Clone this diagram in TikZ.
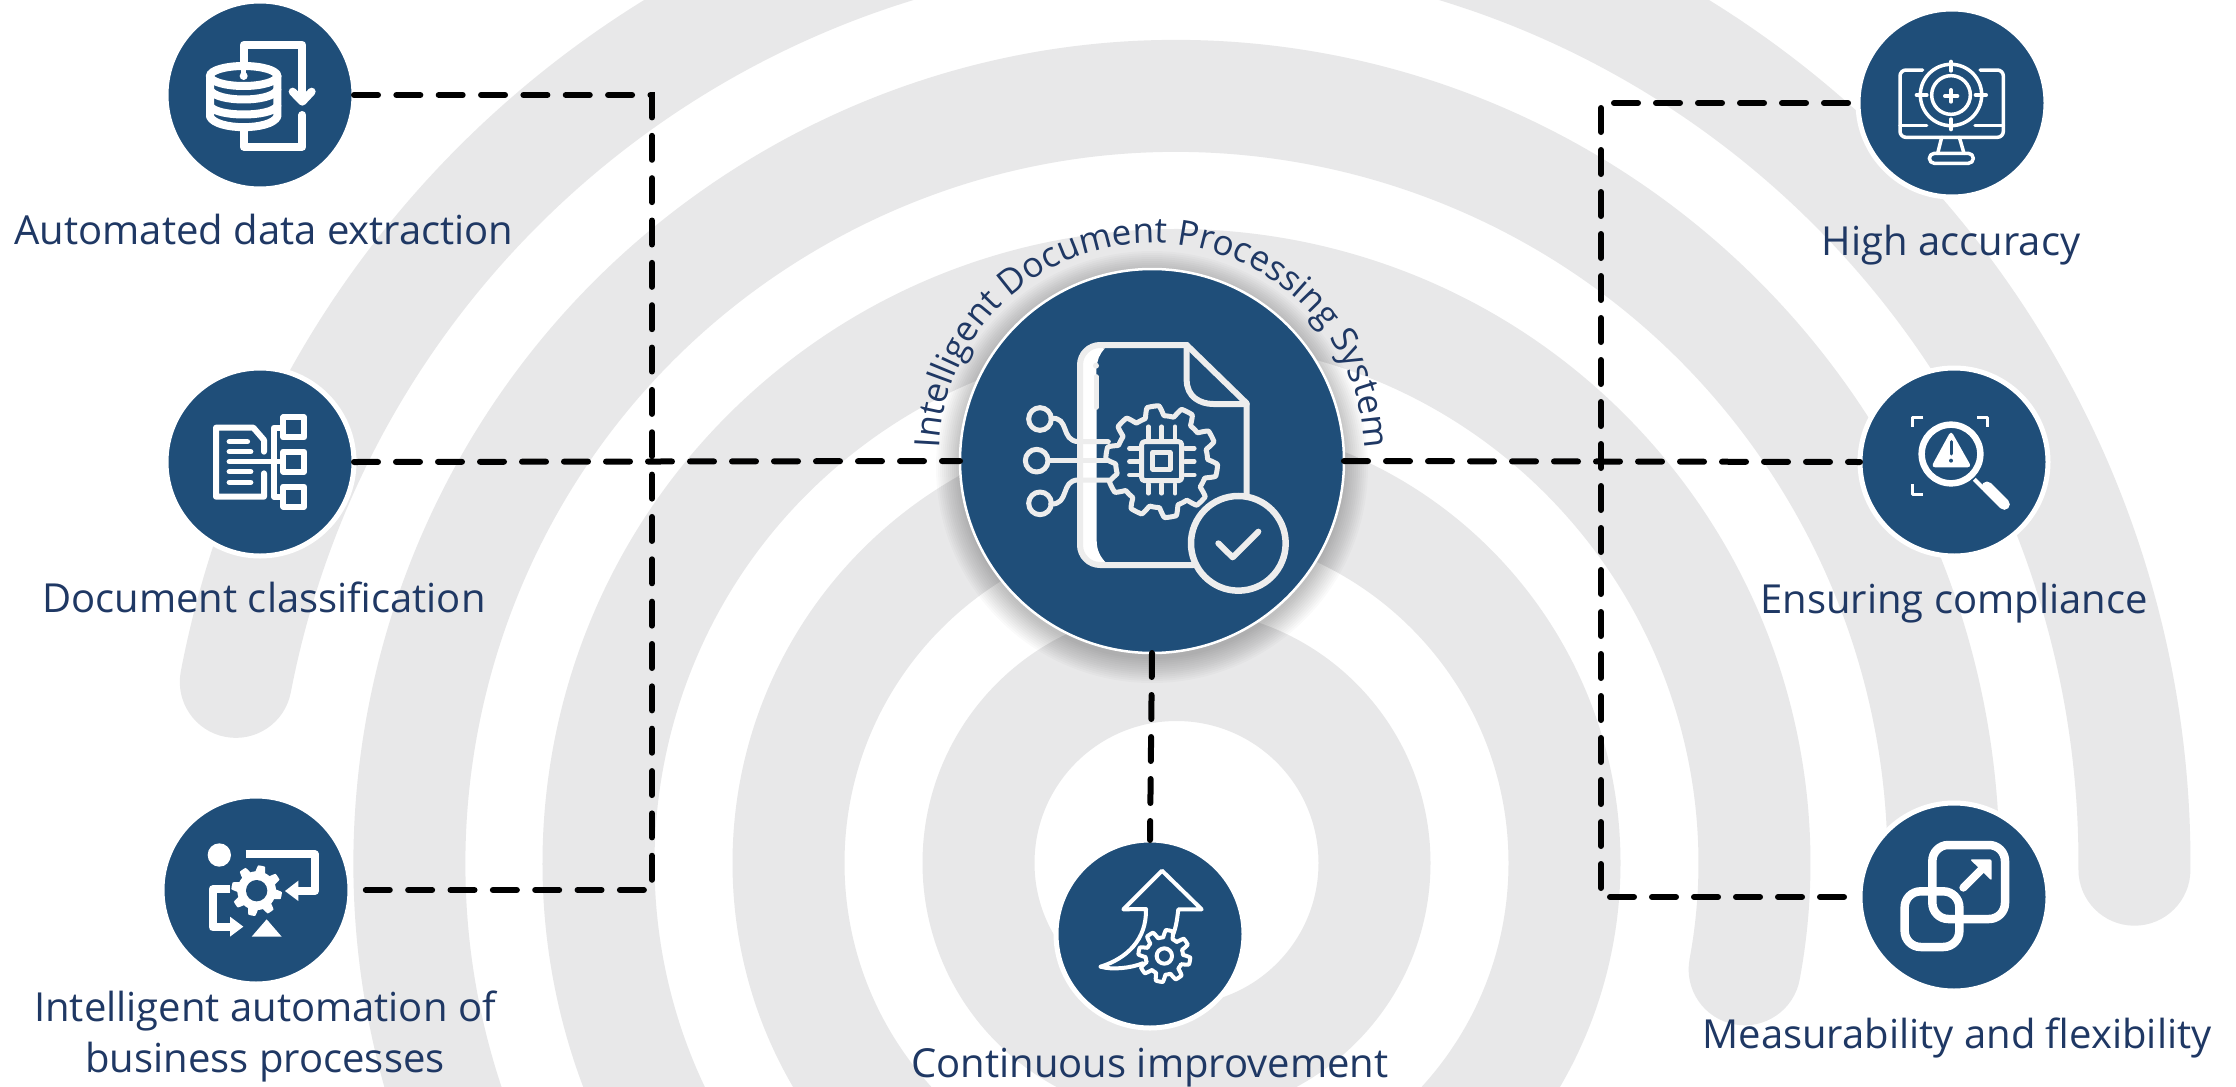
\documentclass[tikz,border=0pt]{standalone}
\usepackage{fontspec}
\setmainfont{Open Sans}
\usetikzlibrary{decorations.text}
\definecolor{ringgray}{HTML}{E8E8E9}
\definecolor{navyfill}{HTML}{1F4E79}
\definecolor{navytext}{HTML}{1F3864}
\definecolor{iconlight}{HTML}{EDEDED}
\newcommand{\gearfig}[6]{%
  \path[#1] plot[domain=0:360,samples=361] ({#2+((#4+#5)/2+(#4-#5)/2*max(-1,min(1,2.2*sin(#6*\x))))*cos(\x)},{#3+((#4+#5)/2+(#4-#5)/2*max(-1,min(1,2.2*sin(#6*\x))))*sin(\x)}) -- cycle;}
\tikzset{
  ring/.style={draw=ringgray,line width=112pt,line cap=round,fill=none},
  hub/.style={circle,fill=navyfill,draw=white,line width=5pt,minimum size=188pt,inner sep=0pt,outer sep=0pt},
  mainhub/.style={circle,fill=navyfill,draw=white,line width=2.5pt,minimum size=384pt,inner sep=0pt,outer sep=0pt},
  label/.style={text=navytext,font=\fontsize{40}{51}\selectfont,align=center,inner sep=0pt},
  link/.style={draw=black,line width=6pt,line cap=round,dash pattern=on 24pt off 18pt},
  linkB/.style={draw=black,line width=6pt,line cap=round,dash pattern=on 24pt off 18.35pt},
  ic/.style={draw=white,line cap=round,line join=round,fill=none},
  zoomA/.style={x=0.33333pt,y=-0.33333pt},
}
\begin{document}
\begin{tikzpicture}[x=1pt,y=-1pt]
\useasboundingbox (0,0) rectangle (2236,1087);
\fill[white] (0,0) rectangle (2236,1087);
% rings
\begin{scope}
\clip (0,0) rectangle (2236,1087);
\draw[ring] (1176.5,863) circle[radius=198];
\draw[ring] (1176.5,863) circle[radius=388];
\draw[ring] (1176.5,863) ++(140:578) arc[start angle=140,end angle=370.6,radius=578];
\draw[ring] (1176.5,863) ++(150:767) arc[start angle=150,end angle=362,radius=767];
\draw[ring] (1176.5,863) ++(190.9:958) arc[start angle=190.9,end angle=360.4,radius=958];
\end{scope}
% centre shadow
\foreach \r in {216,214,...,192}{\fill[black,opacity=0.02] (1152,467) circle[radius=\r];}
% hubs
\node[mainhub] (core) at (1152,461) {};
\node[hub] (extract) at (260,95) {};
\node[hub] (classify) at (260,462) {};
\node[hub] (automate) at (256,890) {};
\node[hub] (improve) at (1150,934) {};
\node[hub] (accuracy) at (1952,103) {};
\node[hub] (comply) at (1954,462) {};
\node[hub] (measure) at (1954,897) {};
% connectors
\coordinate (leftbus) at (652,462);
\coordinate (rightbus) at (1601,462);
\draw[linkB,shorten >=4pt] (extract.east) -| (leftbus) |- (automate.east);
\draw[link] (classify.east) -- (core.west);
\draw[link] (core.east) -- (comply.west);
\draw[link,shorten <=10pt] (accuracy.west) -| (rightbus) |- (measure.west);
\draw[link] (core.south) -- (improve.north);
% labels
\node[label] (t1) at (264,229) {Automated data extraction};
\node[label] (t2) at (264,597) {Document classification};
\node[label] (t3) at (265,1036) {Intelligent automation of\\business processes};
\node[label] (t4) at (1150,1068) {Continuous improvement};
\node[label] (t5) at (1951,245) {High accuracy};
\node[label] (t6) at (1954,603) {Ensuring compliance};
\node[label] (t7) at (1957,1038) {Measurability and flexibility};
% curved title
\path[decorate,decoration={text along path,text align={center},
  text={|\fontsize{35}{35}\selectfont\color{navytext}|Intelligent Document Processing System}}]
  (1152,456) ++(172:213) arc[start angle=172,end angle=368,radius=213];
% icon: core
\begin{scope}[shift={(900,200)},zoomA]
\fill[white] (615,445) .. controls (580,480) and (590,520) .. (590,600) -- (590,1020) .. controls (590,1050) and (600,1070) .. (618,1088) -- (575,1088) .. controls (555,1075) and (545,1055) .. (545,1030) -- (545,490) .. controls (545,465) and (560,450) .. (575,443) -- cycle;
\draw[ic,draw=iconlight,line width=6pt,rounded corners=20pt] (860,435) -- (540,435) -- (540,1095) -- (880,1095);
\draw[ic,draw=iconlight,line width=6pt] (860,435) -- (1040,610) -- (1040,885);
\draw[ic,draw=iconlight,line width=6pt] (860,435) -- (860,540) .. controls (860,590) and (900,612) .. (940,612) -- (1040,612);
\draw[ic,draw=iconlight,line width=5pt] (588,530) -- (588,622);
\fill[iconlight] (588,497) circle[radius=9];
\draw[ic,draw=iconlight,line width=5pt] (420,657) circle[radius=34] (410,782) circle[radius=34] (420,910) circle[radius=34];
\draw[ic,draw=iconlight,line width=5pt] (453,655) .. controls (510,650) and (480,722) .. (535,725) -- (625,725);
\draw[ic,draw=iconlight,line width=5pt] (445,782) -- (640,782);
\draw[ic,draw=iconlight,line width=5pt] (452,912) .. controls (510,915) and (480,840) .. (535,840) -- (625,840);
\gearfig{draw=iconlight,fill=navyfill,line width=5pt,line join=round}{785}{785}{168}{138}{10}
\draw[ic,draw=iconlight,line width=5pt,rounded corners=3pt] (725,725) rectangle (845,842);
\draw[ic,draw=iconlight,line width=5pt] (758,757) rectangle (810,807);
\foreach \p in {745,785,825}{
  \draw[ic,draw=iconlight,line width=4.5pt] (\p,680) -- (\p,715) (\p,852) -- (\p,880);
  \draw[ic,draw=iconlight,line width=4.5pt] (688,\p) -- (715,\p) (855,\p) -- (883,\p);}
\draw[draw=iconlight,fill=navyfill,line width=6.5pt] (1015,1030) circle[radius=142];
\draw[ic,draw=iconlight,line width=6pt] (955,1030) -- (998,1072) -- (1075,995);
\end{scope}
% icon: extract
\begin{scope}[shift={(140,0)},zoomA]
\draw[ic,line width=8pt] (311,228) -- (311,135) -- (487,135) -- (487,295);
\draw[ic,line width=8pt] (458,275) -- (487,305) -- (515,275);
\fill[white] (458,275) -- (487,305) -- (515,275) -- cycle;
\draw[ic,line width=8pt] (487,345) -- (487,440) -- (311,440) -- (311,385);
\draw[draw=white,fill=navyfill,line width=8pt] (311,228) ellipse[x radius=101,y radius=30];
\fill[white] (303,200) rectangle (319,228);
\fill[white] (311,228) circle[radius=12];
\draw[ic,line width=8pt] (210,228) -- (210,350) .. controls (230,392) and (392,392) .. (412,350) -- (412,228);
\draw[ic,line width=8pt] (210,270) .. controls (230,308) and (392,308) .. (412,270);
\draw[ic,line width=8pt] (210,318) .. controls (230,352) and (392,352) .. (412,318);
\end{scope}
% icon: classify
\begin{scope}[shift={(140,360)},zoomA]
\draw[ic,line width=6pt] (372,275) -- (372,240) -- (340,203) -- (228,203) -- (228,410) -- (372,410) -- (372,340);
\foreach \yy/\xx in {245/322,275/332,335/332,367/332}{\draw[ic,line width=5.5pt] (268,\yy) -- (\xx,\yy);}
\draw[ic,line width=5.5pt] (268,305) -- (430,305);
\draw[ic,line width=6pt] (430,203) -- (402,203) -- (402,410) -- (430,410);
\draw[draw=white,fill=navyfill,line width=6pt,line join=round] (430,172) rectangle (492,232);
\draw[draw=white,fill=navyfill,line width=6pt,line join=round] (430,275) rectangle (492,335);
\draw[draw=white,fill=navyfill,line width=6pt,line join=round] (430,380) rectangle (492,440);
\end{scope}
% icon: automate
\begin{scope}[shift={(140,790)},zoomA]
\fill[white] (238,195) circle[radius=35];
\draw[ic,line width=8pt,line cap=butt,line join=round] (317,193) -- (525,193) -- (525,303) -- (470,303);
\fill[white] (435,303) -- (475,272) -- (475,333) -- cycle;
\gearfig{fill=white}{350}{302}{76}{58}{8}
\fill[navyfill] (350,302) circle[radius=32];
\draw[ic,line width=8pt,line cap=butt,line join=round] (270,298) -- (218,298) -- (218,412) -- (275,412);
\fill[white] (310,410) -- (270,380) -- (270,440) -- cycle;
\fill[white] (335,440) -- (425,440) -- (380,388) -- cycle;
\end{scope}
% icon: improve
\begin{scope}[shift={(1040,830)},zoomA]
\draw[ic,line width=4pt] (182,410) .. controls (260,385) and (320,330) .. (318,237) -- (250,238) -- (366,122) -- (485,238) -- (415,238) .. controls (412,260) and (410,285) .. (400,312);
\draw[ic,line width=4pt] (182,410) .. controls (215,420) and (270,415) .. (308,400);
\gearfig{draw=white,fill=navyfill,line width=4pt,line join=round}{373}{378}{78}{56}{8}
\draw[ic,line width=4pt] (373,378) circle[radius=23];
\end{scope}
% icon: accuracy
\begin{scope}[shift={(1840,0)},zoomA]
\draw[ic,line width=3.5pt,rounded corners=6pt] (248,210) -- (180,210) -- (180,412) -- (490,412) -- (490,210) -- (420,210);
\draw[ic,line width=3.5pt] (180,377) -- (260,377) (405,377) -- (490,377);
\draw[ic,line width=3.5pt] (305,412) -- (293,460) (358,412) -- (372,460);
\draw[ic,line width=3.5pt,rounded corners=5pt] (268,460) rectangle (400,490);
\draw[ic,line width=3.5pt] (333,285) circle[radius=92] (333,285) circle[radius=58];
\draw[ic,line width=4pt] (333,185) -- (333,212) (333,358) -- (333,388) (230,285) -- (260,285) (407,285) -- (438,285) (315,288) -- (352,288) (333,270) -- (333,305);
\end{scope}
% icon: comply
\begin{scope}[shift={(1840,360)},zoomA]
\draw[ic,line width=2.7pt,line cap=butt] (250,172) -- (218,172) -- (218,200) (412,172) -- (443,172) -- (443,200) (218,372) -- (218,403) -- (250,403);
\draw[ic,line width=6.5pt] (333,282) circle[radius=88];
\fill[white,rounded corners=4pt] (333,212) -- (395,322) -- (273,322) -- cycle;
\draw[navyfill,line width=3pt,line cap=round] (333,245) -- (333,282);
\fill[navyfill] (333,302) circle[radius=6];
\draw[ic,line width=4pt,line cap=butt] (403,358) -- (432,387);
\draw[ic,line width=11pt,line cap=round] (441,381) -- (493,433);
\end{scope}
% icon: measure
\begin{scope}[shift={(1840,790)},zoomA]
\draw[ic,line width=8.5pt,rounded corners=16pt] (277,165) rectangle (495,387);
\draw[ic,line width=8.5pt,rounded corners=16pt] (194,304) rectangle (358,471);
\draw[ic,line width=8pt] (370,293) -- (435,228);
\fill[white,rounded corners=2pt] (390,208) -- (455,208) -- (455,272) -- cycle;
\end{scope}
\end{tikzpicture}
\end{document}
